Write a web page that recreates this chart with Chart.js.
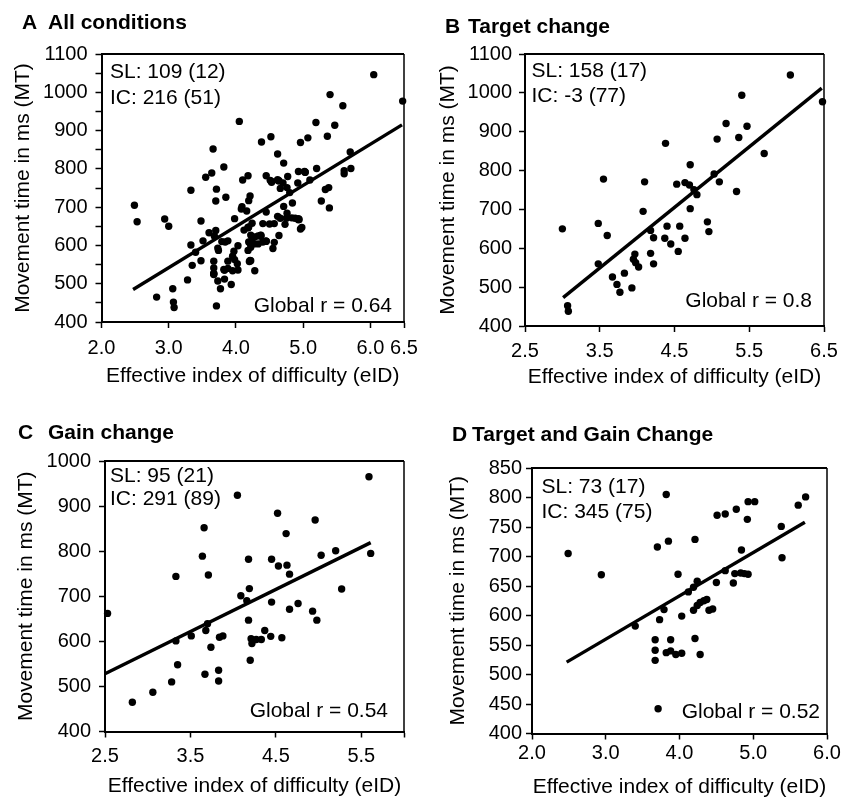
<!DOCTYPE html>
<html>
<head>
<meta charset="utf-8">
<title>Movement time vs effective index of difficulty</title>
<script src="https://cdn.jsdelivr.net/npm/chart.js@4.4.1/dist/chart.umd.min.js"></script>
<style>
    html, body { margin: 0; padding: 0; background: #fff; }
    #figure { position: relative; width: 855px; height: 801px; }
    .panel { position: absolute; }
</style>
</head>
<body>
<div id="figure">
    <div class="panel" style="left:0;top:0;width:427px;height:400px"><canvas id="panel-a"></canvas></div>
    <div class="panel" style="left:427px;top:0;width:428px;height:400px"><canvas id="panel-b"></canvas></div>
    <div class="panel" style="left:0;top:400px;width:427px;height:401px"><canvas id="panel-c"></canvas></div>
    <div class="panel" style="left:427px;top:400px;width:428px;height:401px"><canvas id="panel-d"></canvas></div>
</div>
<script>
(function () {
    "use strict";

    var FONT = "'Liberation Sans', Arial, Helvetica, sans-serif";

    // [eID, MT] pairs
    var targetChange = [
        [3.00, 650], [3.07, 452], [3.08, 438], [3.48, 664], [3.55, 778], [3.60, 633],
        [3.48, 560], [3.67, 526], [3.73, 507], [3.77, 487], [3.83, 536], [3.93, 498],
        [3.97, 585], [3.95, 572], [3.98, 563], [4.02, 552], [4.08, 695], [4.10, 771],
        [4.38, 870], [4.18, 646], [4.22, 627], [4.18, 587], [4.22, 560], [4.40, 657],
        [4.37, 626], [4.45, 611], [4.53, 765], [4.64, 769], [4.70, 763], [4.71, 815],
        [4.76, 751], [4.80, 738], [4.71, 702], [4.57, 657], [4.64, 626], [4.55, 592],
        [4.94, 668], [4.96, 643], [5.03, 791], [5.10, 771], [5.07, 881], [5.19, 921],
        [5.33, 746], [5.36, 885], [5.40, 994], [5.47, 914], [5.70, 844], [6.05, 1046],
        [6.48, 977]
    ];

    var gainChange = [
        [2.53, 662], [2.82, 465], [3.06, 487], [3.28, 510], [3.33, 744], [3.33, 601],
        [3.35, 548], [3.51, 612], [3.66, 852], [3.64, 789], [3.71, 747], [3.70, 639],
        [3.68, 624], [3.67, 527], [3.74, 587], [3.83, 536], [3.83, 512], [3.84, 609],
        [3.88, 612], [4.05, 924], [4.09, 701], [4.16, 690], [4.19, 717], [4.18, 782],
        [4.18, 647], [4.20, 558], [4.21, 606], [4.22, 595], [4.27, 604], [4.33, 604],
        [4.37, 624], [4.44, 611], [4.57, 608], [4.45, 782], [4.45, 687], [4.52, 884],
        [4.53, 767], [4.62, 839], [4.63, 769], [4.66, 749], [4.66, 671], [4.76, 684],
        [4.93, 667], [4.98, 647], [4.96, 869], [5.03, 791], [5.20, 801], [5.27, 716],
        [5.59, 965], [5.61, 795]
    ];

    var targetGainChange = [
        [2.49, 705], [2.94, 669], [3.40, 582], [3.71, 442], [3.67, 559], [3.67, 541],
        [3.67, 524], [3.70, 716], [3.73, 593], [3.79, 610], [3.82, 805], [3.85, 726],
        [3.88, 559], [3.82, 537], [3.88, 540], [3.95, 534], [4.03, 536], [3.98, 670],
        [4.03, 599], [4.12, 640], [4.19, 648], [4.24, 658], [4.21, 729], [4.19, 609],
        [4.24, 617], [4.28, 622], [4.33, 625], [4.37, 627], [4.40, 609], [4.45, 611],
        [4.21, 561], [4.28, 534], [4.51, 770], [4.62, 772], [4.77, 780], [4.92, 763],
        [4.93, 793], [5.02, 793], [4.50, 656], [4.62, 676], [4.73, 655], [4.75, 671],
        [4.83, 672], [4.88, 671], [4.93, 670], [4.84, 711], [5.38, 751], [5.39, 698],
        [5.61, 787], [5.71, 801]
    ];

    // panel A pools every condition
    var allConditions = targetChange.concat(gainChange, targetGainChange);

    // regression line end points
    var fitAll = [[2.47, 485], [6.47, 915]];
    var fitTarget = [[3.01, 473], [6.47, 1012]];
    var fitGain = [[2.50, 528], [5.61, 819]];
    var fitTargetGain = [[2.47, 521], [5.70, 758]];

    var xTicksA = [2.0, 3.0, 4.0, 5.0, 6.0, 6.5];
    var xTicksB = [2.5, 3.5, 4.5, 5.5, 6.5];
    var xTicksC = [2.5, 3.5, 4.5, 5.5, 6.0];
    var xLabelsC = [2.5, 3.5, 4.5, 5.5];
    var xTicksD = [2.0, 3.0, 4.0, 5.0, 6.0];

    var yTicksA = [400, 450, 500, 550, 600, 650, 700, 750, 800, 850, 900, 950, 1000, 1050, 1100];
    var yLabelsA = [400, 500, 600, 700, 800, 900, 1000, 1100];
    var yTicksB = [400, 500, 600, 700, 800, 900, 1000, 1100];
    var yTicksC = [400, 500, 600, 700, 800, 900, 1000];
    var yTicksD = [400, 450, 500, 550, 600, 650, 700, 750, 800, 850];

    var statsA = ["SL: 109 (12)", "IC: 216 (51)"];
    var statsB = ["SL: 158 (17)", "IC: -3 (77)"];
    var statsC = ["SL: 95 (21)", "IC: 291 (89)"];
    var statsD = ["SL: 73 (17)", "IC: 345 (75)"];

    var xTitle = "Effective index of difficulty (eID)";
    var yTitle = "Movement time in ms (MT)";

    var panels = [
        {
            id: "panel-a", letter: "A", title: "All conditions",
            points: allConditions, fit: fitAll,
            xMin: 2, xMax: 6.5, xTicks: xTicksA, xLabels: xTicksA,
            yMin: 400, yMax: 1100, yTicks: yTicksA, yLabels: yLabelsA,
            stats: statsA, global: "Global r = 0.64",
            layout: {
                top: 54, right: 23, yWidth: 101.5, xHeight: 78,
                yTickPad: 8, xTickPad: 8, yTitlePad: 11, xTitlePad: 11,
                letterX: 22, titleX: 48, titleY: 23,
                noteX: 8.5, noteY: 18, noteGap: 26.5, globalRight: 12, globalBottom: 16
            }
        },
        {
            id: "panel-b", letter: "B", title: "Target change",
            points: targetChange, fit: fitTarget,
            xMin: 2.5, xMax: 6.5, xTicks: xTicksB, xLabels: xTicksB,
            yMin: 400, yMax: 1100, yTicks: yTicksB, yLabels: yTicksB,
            stats: statsB, global: "Global r = 0.8",
            layout: {
                top: 54, right: 31, yWidth: 98, xHeight: 74,
                yTickPad: 7, xTickPad: 7, yTitlePad: 9, xTitlePad: 10,
                letterX: 18, titleX: 41, titleY: 27,
                noteX: 6.5, noteY: 17.5, noteGap: 25, globalRight: 12, globalBottom: 25
            }
        },
        {
            id: "panel-c", letter: "C", title: "Gain change",
            points: gainChange, fit: fitGain,
            xMin: 2.5, xMax: 6.0, xTicks: xTicksC, xLabels: xLabelsC,
            yMin: 400, yMax: 1000, yTicks: yTicksC, yLabels: yTicksC,
            stats: statsC, global: "Global r = 0.54",
            layout: {
                top: 61, right: 23, yWidth: 105, xHeight: 69.5,
                yTickPad: 8, xTickPad: 7, yTitlePad: 14, xTitlePad: 2,
                letterX: 18, titleX: 48, titleY: 33,
                noteX: 5, noteY: 15, noteGap: 23, globalRight: 16, globalBottom: 20
            }
        },
        {
            id: "panel-d", letter: "D", title: "Target and Gain Change",
            points: targetGainChange, fit: fitTargetGain,
            xMin: 2, xMax: 6, xTicks: xTicksD, xLabels: xTicksD,
            yMin: 400, yMax: 850, yTicks: yTicksD, yLabels: yTicksD,
            stats: statsD, global: "Global r = 0.52",
            layout: {
                top: 68, right: 28, yWidth: 105, xHeight: 67.5,
                yTickPad: 4, xTickPad: 2, yTitlePad: 19, xTitlePad: 1,
                letterX: 25, titleX: 45, titleY: 35,
                noteX: 9.5, noteY: 19.5, noteGap: 24.5, globalRight: 7, globalBottom: 21
            }
        }
    ];

    function toXY(pairs) {
        return pairs.map(function (p) {
            return { x: p[0], y: p[1] };
        });
    }

    function toTicks(values) {
        return values.map(function (v) {
            return { value: v };
        });
    }

    function overlayPlugin(panel) {
        var L = panel.layout;

        return {
            id: "overlay",
            afterDatasetsDraw: function (chart) {
                var ctx = chart.ctx;
                var area = chart.chartArea;

                ctx.save();
                ctx.strokeStyle = "#000";
                ctx.lineWidth = 2;
                ctx.beginPath();
                ctx.moveTo(area.left, area.top);
                ctx.lineTo(area.right, area.top);
                ctx.stroke();
                ctx.lineWidth = 1.5;
                ctx.beginPath();
                ctx.moveTo(area.right, area.top);
                ctx.lineTo(area.right, area.bottom);
                ctx.stroke();

                ctx.fillStyle = "#000";
                ctx.textBaseline = "middle";
                ctx.textAlign = "left";
                ctx.font = "bold 21px " + FONT;
                ctx.fillText(panel.letter, L.letterX, L.titleY);
                ctx.fillText(panel.title, L.titleX, L.titleY);

                ctx.font = "21px " + FONT;
                panel.stats.forEach(function (line, i) {
                    ctx.fillText(line, area.left + L.noteX, area.top + L.noteY + i * L.noteGap);
                });

                ctx.textAlign = "right";
                ctx.fillText(panel.global, area.right - L.globalRight, area.bottom - L.globalBottom);
                ctx.restore();
            }
        };
    }

    function axisGrid() {
        return {
            display: true,
            drawOnChartArea: false,
            drawTicks: true,
            tickLength: 6,
            tickWidth: 1.5,
            tickColor: "#000"
        };
    }

    function createPanel(panel) {
        var L = panel.layout;
        var canvas = document.getElementById(panel.id);

        return new Chart(canvas.getContext("2d"), {
            type: "scatter",
            data: {
                datasets: [
                    {
                        type: "scatter",
                        data: toXY(panel.points),
                        pointRadius: 3.7,
                        pointBackgroundColor: "#000",
                        pointBorderWidth: 0,
                        clip: false
                    },
                    {
                        type: "line",
                        data: toXY(panel.fit),
                        borderColor: "#000",
                        borderWidth: 3.4,
                        pointRadius: 0,
                        fill: false,
                        tension: 0,
                        clip: false
                    }
                ]
            },
            options: {
                responsive: true,
                maintainAspectRatio: false,
                animation: false,
                events: [],
                layout: {
                    autoPadding: false,
                    padding: { top: L.top, right: L.right, left: 0, bottom: 0 }
                },
                plugins: {
                    legend: { display: false },
                    tooltip: { enabled: false }
                },
                scales: {
                    x: {
                        type: "linear",
                        position: "bottom",
                        min: panel.xMin,
                        max: panel.xMax,
                        afterBuildTicks: function (scale) {
                            scale.ticks = toTicks(panel.xTicks);
                        },
                        afterFit: function (scale) {
                            scale.height = L.xHeight;
                        },
                        ticks: {
                            autoSkip: false,
                            maxRotation: 0,
                            minRotation: 0,
                            padding: L.xTickPad,
                            color: "#000",
                            font: { family: FONT, size: 20 },
                            callback: function (value) {
                                return panel.xLabels.indexOf(value) === -1 ? "" : value.toFixed(1);
                            }
                        },
                        grid: axisGrid(),
                        border: { display: true, color: "#000", width: 2 },
                        title: {
                            display: true,
                            text: xTitle,
                            color: "#000",
                            font: { family: FONT, size: 21 },
                            padding: { top: 0, bottom: L.xTitlePad }
                        }
                    },
                    y: {
                        type: "linear",
                        position: "left",
                        min: panel.yMin,
                        max: panel.yMax,
                        afterBuildTicks: function (scale) {
                            scale.ticks = toTicks(panel.yTicks);
                        },
                        afterFit: function (scale) {
                            scale.width = L.yWidth;
                        },
                        ticks: {
                            autoSkip: false,
                            padding: L.yTickPad,
                            color: "#000",
                            font: { family: FONT, size: 20 },
                            callback: function (value) {
                                return panel.yLabels.indexOf(value) === -1 ? "" : String(value);
                            }
                        },
                        grid: axisGrid(),
                        border: { display: true, color: "#000", width: 2 },
                        title: {
                            display: true,
                            text: yTitle,
                            color: "#000",
                            font: { family: FONT, size: 21 },
                            padding: { top: L.yTitlePad, bottom: 0 }
                        }
                    }
                }
            },
            plugins: [overlayPlugin(panel)]
        });
    }

    panels.forEach(createPanel);
})();
</script>
</body>
</html>
